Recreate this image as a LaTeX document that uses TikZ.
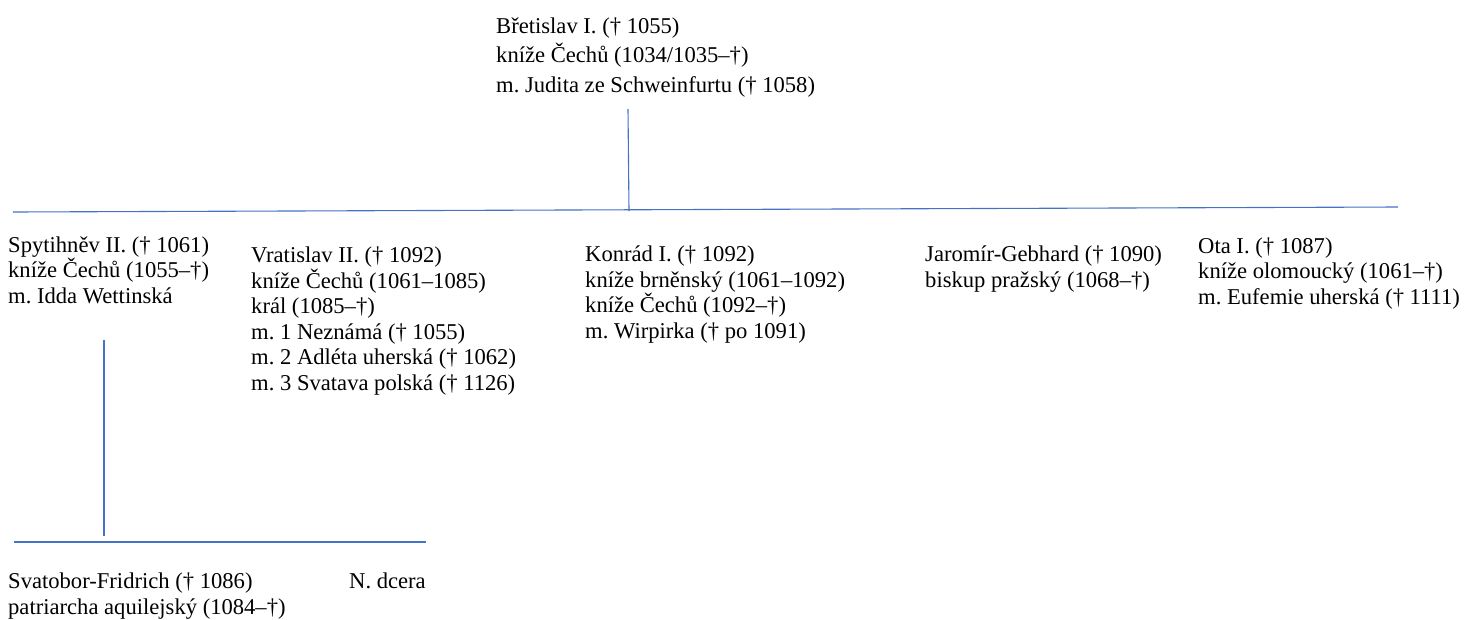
\documentclass[tikz,border=0pt]{standalone}
\usepackage{fontspec}
\setmainfont{Liberation Serif}
\frenchspacing
\definecolor{linkblue}{HTML}{4472C4}
\tikzset{
  person/.style={anchor=base west, inner sep=0pt, align=left,
    font=\fontsize{22.6}{25.5}\selectfont},
  toptext/.style={person, font=\fontsize{22.6}{29.5}\selectfont},
  link/.style={draw=linkblue, line width=1.1pt}
}
\begin{document}
\begin{tikzpicture}[x=1pt,y=-1pt]
\useasboundingbox (0,0) rectangle (1478,619);
% base anchor = baseline of the last line
\node[toptext] (bretislav) at (496,92) {Břetislav I. († 1055)\\kníže Čechů (1034/1035–†)\\m. Judita ze Schweinfurtu († 1058)};
\node[person] (spytihnev) at (8,303) {Spytihněv II. († 1061)\\kníže Čechů (1055–†)\\m. Idda Wettinská};
\node[person] (vratislav) at (251,390) {Vratislav II. († 1092)\\kníže Čechů (1061–1085)\\král (1085–†)\\m. 1 Neznámá († 1055)\\m. 2 Adléta uherská († 1062)\\m. 3 Svatava polská († 1126)};
\node[person] (konrad) at (585,338) {Konrád I. († 1092)\\kníže brněnský (1061–1092)\\kníže Čechů (1092–†)\\m. Wirpirka († po 1091)};
\node[person] (jaromir) at (925,287) {Jaromír-Gebhard († 1090)\\biskup pražský (1068–†)};
\node[person] (ota) at (1198,304) {Ota I. († 1087)\\kníže olomoucký (1061–†)\\m. Eufemie uherská († 1111)};
\node[person] (svatobor) at (8,614) {Svatobor-Fridrich († 1086)\\patriarcha aquilejský (1084–†)};
\node[person] (dcera) at (349,588) {N. dcera};
\coordinate (topA) at (628,109);
\coordinate (topB) at (629,211);
\coordinate (barL) at (13,212);
\coordinate (barR) at (1398,207);
\coordinate (subA) at (104,340);
\coordinate (subB) at (104,536);
\coordinate (sbarL) at (14,542);
\coordinate (sbarR) at (426,542);
\draw[link] (topA) -- (topB);
\draw[link] (barL) -- (barR);
\draw[link] (subA) -- (subB);
\draw[link] (sbarL) -- (sbarR);
\end{tikzpicture}
\end{document}
